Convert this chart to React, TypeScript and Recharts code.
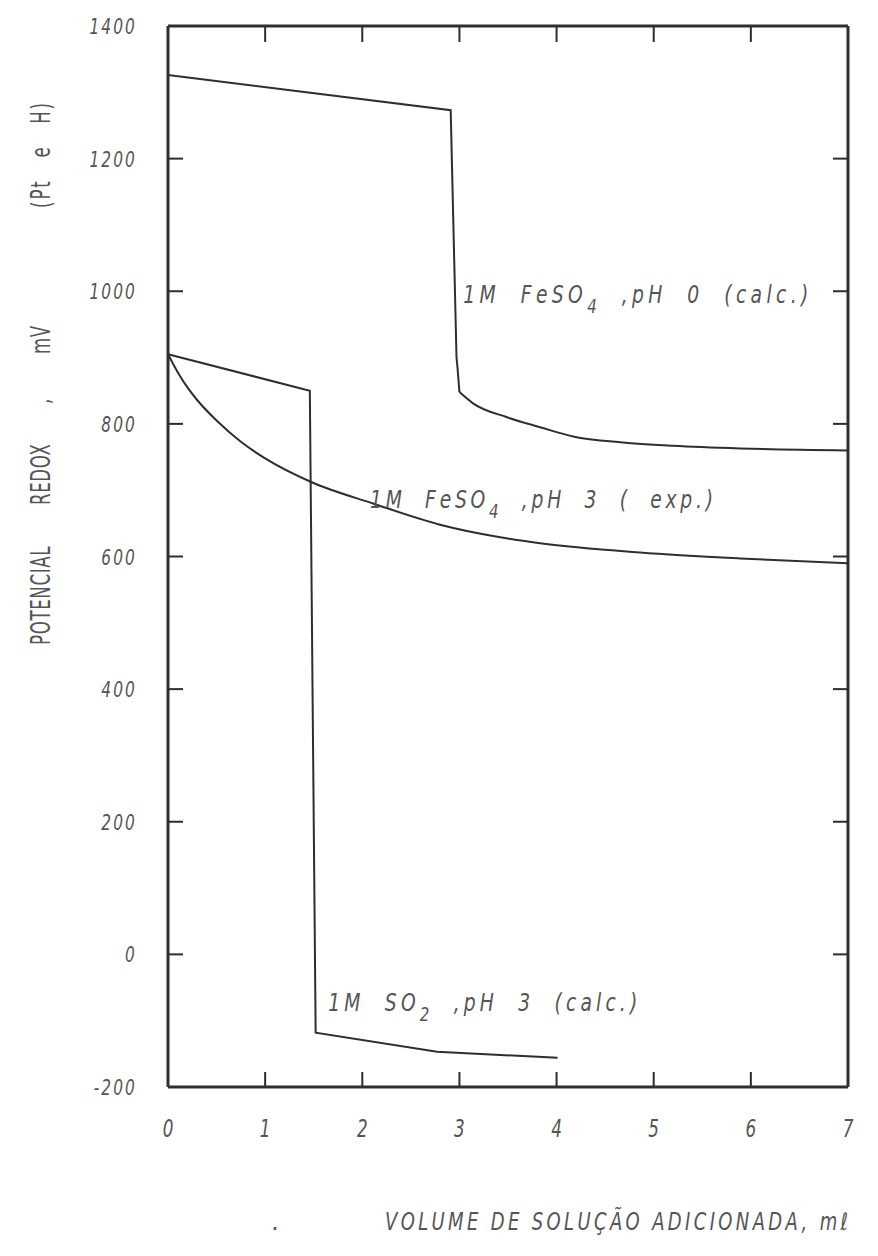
import { LineChart, Line, XAxis, YAxis, ReferenceDot } from "recharts";

// axis ticks
const xTicks = [0, 1, 2, 3, 4, 5, 6, 7];
const yTicks = [-200, 0, 200, 400, 600, 800, 1000, 1200, 1400];
const xTicksTop = [1, 2, 3, 4, 5, 6, 7];
const yTicksRight = [0, 200, 400, 600, 800, 1000, 1200];

// 1M FeSO4, pH 0 (calc.) - plateau and jump
const ph0X = [0, 2.91, 2.97, 2.98, 3.0];
const ph0Y = [1326, 1273, 900, 885, 848];
// 1M FeSO4, pH 0 (calc.) - tail after equivalence point
const ph0TailX = [3.0, 3.14, 3.49, 3.83, 4.17, 4.68, 5.2, 5.89, 7];
const ph0TailY = [848, 831, 810, 795, 781, 772, 767, 763, 760];
// 1M FeSO4, pH 3 (exp.)
const expX = [0, 0.1, 0.2, 0.3, 0.5, 0.75, 1.0, 1.48, 2.11, 2.8, 3.42, 3.83, 4.86, 5.89, 7];
const expY = [905, 878, 855, 836, 805, 773, 748, 712, 680, 648, 629, 620, 606, 597, 590];
// 1M SO2, pH 3 (calc.)
const so2X = [0, 1.46, 1.52, 2.77, 4.01];
const so2Y = [905, 850, -118, -147, -156];

const toPoints = (xs: number[], ys: number[]) => xs.map((x, i) => ({ x, y: ys[i] }));

const ink = "#2e2e2e";
const textColor = "#555555";
const font = "'DejaVu Sans', sans-serif";

const noLabel = () => <g />;

// condensed look: draw normal glyphs squeezed horizontally
function YTick(props: any) {
  const { x, y, payload } = props;
  return (
    <g transform={`translate(${x},${y}) scale(0.7,1)`}>
      <text
        textAnchor="end"
        dominantBaseline="central"
        fill={textColor}
        fontSize={22}
        fontStyle="italic"
        fontFamily={font}
        style={{ letterSpacing: 3 }}
      >
        {payload.value}
      </text>
    </g>
  );
}

function XTick(props: any) {
  const { x, y, payload } = props;
  return (
    <g transform={`translate(${x},${y}) scale(0.7,1)`}>
      <text
        textAnchor="middle"
        dy="0.71em"
        fill={textColor}
        fontSize={24}
        fontStyle="italic"
        fontFamily={font}
      >
        {payload.value}
      </text>
    </g>
  );
}

function Annot(props: any) {
  const { cx, cy, pre, sub, post, len } = props;
  const sx = 0.75;
  return (
    <g transform={`translate(${cx},${cy}) scale(${sx},1)`}>
      <text
        fill={textColor}
        fontSize={25}
        fontStyle="italic"
        fontFamily={font}
        textLength={len / sx}
        lengthAdjust="spacing"
        style={{ whiteSpace: "pre" }}
      >
        {pre}
        <tspan dy={10} fontSize={20}>
          {sub}
        </tspan>
        <tspan dy={-10}>{post}</tspan>
      </text>
    </g>
  );
}

function YTitle(props: any) {
  const { viewBox } = props;
  const x = viewBox.x + 32;
  const y = 637;
  const sx = 0.64;
  // word offsets along the rotated baseline, in pixels
  const at = (d: number) => d / sx;
  return (
    <g transform={`translate(${x},${y}) rotate(-90) scale(${sx},1)`}>
      <text
        dominantBaseline="central"
        fill={textColor}
        fontSize={26}
        fontFamily={font}
        style={{ whiteSpace: "pre", letterSpacing: 1 }}
      >
        <tspan x={at(0)}>POTENCIAL</tspan>
        <tspan x={at(140)}>REDOX</tspan>
        <tspan x={at(241)}>,</tspan>
        <tspan x={at(291)}>mV</tspan>
        <tspan x={at(437)} style={{ letterSpacing: 3 }}>
          {"(Pt   e   H)"}
        </tspan>
      </text>
    </g>
  );
}

function XTitle(props: any) {
  const { viewBox } = props;
  const right = viewBox.x + viewBox.width;
  const y = 1214;
  const sx = 0.75;
  return (
    <g fill={textColor} fontFamily={font} fontStyle="italic" fontSize={24}>
      <text x={264} y={y} dominantBaseline="central">
        .
      </text>
      <g transform={`translate(${right},${y}) scale(${sx},1)`}>
        <text
          textAnchor="end"
          dominantBaseline="central"
          textLength={463 / sx}
          lengthAdjust="spacing"
          style={{ whiteSpace: "pre" }}
        >
          {"VOLUME DE SOLUÇÃO ADICIONADA, mℓ"}
        </text>
      </g>
    </g>
  );
}

export default function App() {
  return (
    <LineChart
      width={862}
      height={1240}
      margin={{ top: 17, right: 21, left: 0, bottom: 0 }}
    >
      <XAxis
        type="number"
        dataKey="x"
        domain={[0, 7]}
        ticks={xTicks}
        height={161}
        tickSize={-15}
        tickMargin={48}
        interval={0}
        tick={<XTick />}
        axisLine={{ stroke: ink, strokeWidth: 3 }}
        tickLine={{ stroke: ink, strokeWidth: 2 }}
        label={<XTitle />}
      />
      <XAxis
        xAxisId="top"
        orientation="top"
        type="number"
        dataKey="x"
        domain={[0, 7]}
        ticks={xTicksTop}
        height={1}
        tickSize={-16}
        interval={0}
        tick={noLabel}
        axisLine={{ stroke: ink, strokeWidth: 3 }}
        tickLine={{ stroke: ink, strokeWidth: 2 }}
      />
      <YAxis
        type="number"
        domain={[-200, 1400]}
        ticks={yTicks}
        width={160}
        tickSize={-15}
        tickMargin={46}
        interval={0}
        tick={<YTick />}
        axisLine={{ stroke: ink, strokeWidth: 3 }}
        tickLine={{ stroke: ink, strokeWidth: 2 }}
        label={<YTitle />}
      />
      <YAxis
        yAxisId="right"
        orientation="right"
        type="number"
        domain={[-200, 1400]}
        ticks={yTicksRight}
        width={1}
        tickSize={-15}
        interval={0}
        tick={noLabel}
        axisLine={{ stroke: ink, strokeWidth: 3 }}
        tickLine={{ stroke: ink, strokeWidth: 2 }}
      />
      <Line
        data={toPoints(ph0X, ph0Y)}
        dataKey="y"
        type="linear"
        stroke={ink}
        strokeWidth={2}
        dot={false}
        isAnimationActive={false}
      />
      <Line
        data={toPoints(ph0TailX, ph0TailY)}
        dataKey="y"
        type="monotone"
        stroke={ink}
        strokeWidth={2}
        dot={false}
        isAnimationActive={false}
      />
      <Line
        xAxisId="top"
        yAxisId="right"
        data={toPoints(expX, expY)}
        dataKey="y"
        type="monotone"
        stroke={ink}
        strokeWidth={2}
        dot={false}
        isAnimationActive={false}
      />
      <Line
        data={toPoints(so2X, so2Y)}
        dataKey="y"
        type="linear"
        stroke={ink}
        strokeWidth={2}
        dot={false}
        isAnimationActive={false}
      />
      <ReferenceDot
        x={3.04}
        y={982}
        r={0}
        shape={(p: any) => (
          <Annot {...p} pre="1M  FeSO" sub="4" post="  ,pH  0  (calc.)" len={345} />
        )}
      />
      <ReferenceDot
        x={2.08}
        y={673}
        r={0}
        shape={(p: any) => (
          <Annot {...p} pre="1M  FeSO" sub="4" post="  ,pH  3  (  exp.)" len={343} />
        )}
      />
      <ReferenceDot
        x={1.65}
        y={-85}
        r={0}
        shape={(p: any) => (
          <Annot {...p} pre="1M  SO" sub="2" post="  ,pH  3  (calc.)" len={309} />
        )}
      />
    </LineChart>
  );
}
